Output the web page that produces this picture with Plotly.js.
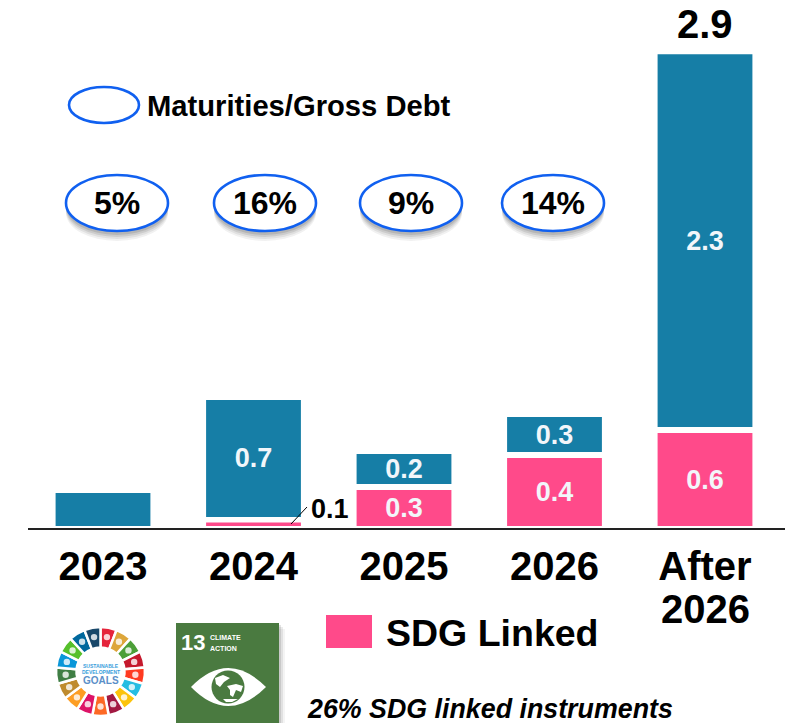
<!DOCTYPE html>
<html><head><meta charset="utf-8">
<script src="https://cdn.plot.ly/plotly-3.0.1.min.js"></script>
<style>html,body{margin:0;padding:0;background:#fff}#c{width:785px;height:723px}</style>
</head><body><div id="c"></div>
<script>
// Data
const categories = ['2023','2024','2025','2026','After 2026'];
const tickLabels = ['2023','2024','2025','2026','After'];
const tickSecondLine = '2026';
const pinkBase = [0.01,0.01,0.01,0.01,0.01];
const pinkHeight = [0,0.022,0.224,0.424,0.58];
const tealBase = [0.01,0.066,0.272,0.472,0.628];
const tealHeight = [0.206,0.731,0.187,0.218,2.33];
const pinkLabels = ['','','0.3','0.4','0.6'];
const tealLabels = ['','0.7','0.2','0.3','2.3'];
const totals = ['0.2','0.8','0.5','0.7','2.9'];
const totalTops = [0.216,0.797,0.459,0.69,2.96];
const ratios = ['5%','16%','9%','14%'];
const ratioX = [117,265,411,553];
const sdgColors = ['#E5243B','#DDA63A','#4C9F38','#C5192D','#FF3A21','#26BDE2','#FCC30B','#A21942','#FD6925','#DD1367','#FD9D24','#BF8B2E','#3F7E44','#0A97D9','#56C02B','#00689D','#19486A'];
const W=785,H=723,AX=527.5,PXU=160;
const px=x=>x/W, py=y=>1-y/H;
const FONT='"Liberation Sans", Arial, sans-serif';
const TEAL='#167EA6', PINK='#FF4A8A', BLUE='#1060F0', TILE='#4A7A40';

const ell=(cx,cy,rx,ry,o)=>Object.assign({type:'circle',xref:'paper',yref:'paper',x0:px(cx-rx),x1:px(cx+rx),y0:py(cy+ry),y1:py(cy-ry),line:{width:0}},o);
const rect=(x0,y0,x1,y1,c)=>({type:'rect',xref:'paper',yref:'paper',x0:px(x0),x1:px(x1),y0:py(y1),y1:py(y0),fillcolor:c,line:{width:0}});
const P=(x,y)=>px(x)+','+py(y);
const blob=(pts,c)=>({type:'path',xref:'paper',yref:'paper',path:'M'+pts.map(p=>P(p[0],p[1])).join('L')+'Z',fillcolor:c,line:{width:0}});
const bold=(s,c,f)=>({family:f||FONT,size:s,color:c||'#000',weight:700});
const note=(x,y,t,s,o)=>Object.assign({xref:'paper',yref:'paper',x:px(x),y:py(y),text:t,showarrow:false,xanchor:'center',yanchor:'middle',font:bold(s)},o||{});

const shapes=[];
shapes.push(ell(104,105,35,18,{fillcolor:'#fff',line:{color:BLUE,width:2.6}}));
ratioX.forEach(x=>{
  [[10,.07],[8,.09],[6,.12],[4,.15]].forEach(s=>shapes.push(ell(x,203+s[0],51,28,{fillcolor:'rgba(60,60,60,'+s[1]+')'})));
  shapes.push(ell(x,203,51,28,{fillcolor:'#fff',line:{color:BLUE,width:2.6}}));
});
// leader line
shapes.push({type:'line',xref:'paper',yref:'paper',x0:px(291),y0:py(524),x1:px(307),y1:py(507),line:{color:'#000',width:1}});
// legend swatch
shapes.push(rect(326,615,372,648,PINK));
// SDG wheel icons
sdgColors.forEach((c,i)=>{const a=(i+0.5)/17*2*Math.PI;shapes.push(ell(100.5+35*Math.sin(a),671.5-35*Math.cos(a),3.2,3.2,{fillcolor:'rgba(255,255,255,0.8)'}));});
// SDG 13 tile with shadow
[[6,.06],[4,.1],[2,.14]].forEach(s=>shapes.push(rect(176+s[0],623+s[0],279+s[0],723,'rgba(60,60,60,'+s[1]+')')));
shapes.push(rect(176,623,279,723,TILE));
shapes.push({type:'path',xref:'paper',yref:'paper',path:'M'+P(191,687)+'Q'+P(228,649)+' '+P(266,687)+'Q'+P(228,725)+' '+P(191,687)+'Z',fillcolor:'#fff',line:{width:0}});
shapes.push(ell(228,687,16.5,16.5,{fillcolor:TILE}));
shapes.push(blob([[215,678],[223,675],[230,678],[224,682],[220,687],[216,684]],'#fff'));
shapes.push(blob([[227,686],[236,684],[243,686],[241,692],[236,690],[233,697],[230,695],[230,690]],'#fff'));
shapes.push(blob([[223,699],[238,699],[232,702],[226,702]],'#fff'));

const annotations=[
  note(299,106,'Maturities/Gross Debt',29.2),
  note(492.5,633,'SDG Linked',37.5),
  note(490,709,'<i>26% SDG linked instruments</i>',26.8),
  note(330,509,'0.1',27),
  note(193,642,'13',22,{font:bold(22,'#fff')}),
  note(208,637,'CLIMATE',7,{xanchor:'left',font:bold(7,'#fff')}),
  note(208,648,'ACTION',7,{xanchor:'left',font:bold(7,'#fff')}),
  note(100.5,666,'SUSTAINABLE',5,{font:bold(5,'#3AA0DC')}),
  note(100.5,672,'DEVELOPMENT',5,{font:bold(5,'#3AA0DC')}),
  note(100.5,680,'GOALS',10,{font:bold(10,'#5B8FC8')})
];
ratios.forEach((t,i)=>annotations.push(note(ratioX[i],203,t,32)));
totals.forEach((t,i)=>annotations.push({xref:'x',yref:'y',x:categories[i],y:totalTops[i],yshift:6,text:t,showarrow:false,yanchor:'bottom',font:bold(40)}));
annotations.push({xref:'x',yref:'paper',x:categories[4],y:py(609),text:tickSecondLine,showarrow:false,yanchor:'middle',font:bold(40)});

const insideFont={family:FONT,size:27,color:'#F2F6FA',weight:700};
const data=[
 {type:'bar',x:categories,y:pinkHeight,base:pinkBase,marker:{color:PINK},text:pinkLabels,textposition:'inside',insidetextanchor:'middle',textangle:0,insidetextfont:insideFont,constraintext:'none',hoverinfo:'skip',name:'SDG Linked'},
 {type:'bar',x:categories,y:tealHeight,base:tealBase,marker:{color:TEAL},text:tealLabels,textposition:'inside',insidetextanchor:'middle',textangle:0,insidetextfont:insideFont,constraintext:'none',hoverinfo:'skip',name:'Other'},
 {type:'pie',values:sdgColors.map(()=>1),marker:{colors:sdgColors,line:{color:'#fff',width:2.5}},sort:false,direction:'clockwise',rotation:0,hole:0.54,textinfo:'none',hoverinfo:'skip',showlegend:false,
  domain:{x:[px(56),px(145)],y:[py(716),py(627)]}}
];
const layout={
 width:W,height:H,margin:{l:0,r:0,t:0,b:0},paper_bgcolor:'#fff',plot_bgcolor:'#fff',showlegend:false,
 barmode:'overlay',bargap:0.37,
 xaxis:{domain:[28/W,1],type:'category',categoryorder:'array',categoryarray:categories,range:[(28-103)/150.5,(785-103)/150.5],
   tickmode:'array',tickvals:categories,ticktext:tickLabels,
   showline:true,linecolor:'#222',linewidth:2,ticks:'',ticklabelstandoff:2,tickfont:bold(40),showgrid:false,zeroline:false},
 yaxis:{domain:[(H-AX)/H,1],range:[0,AX/PXU],visible:false,showgrid:false,zeroline:false},
 shapes,annotations
};
Plotly.newPlot('c',data,layout,{displayModeBar:false,staticPlot:true});
</script></body></html>
